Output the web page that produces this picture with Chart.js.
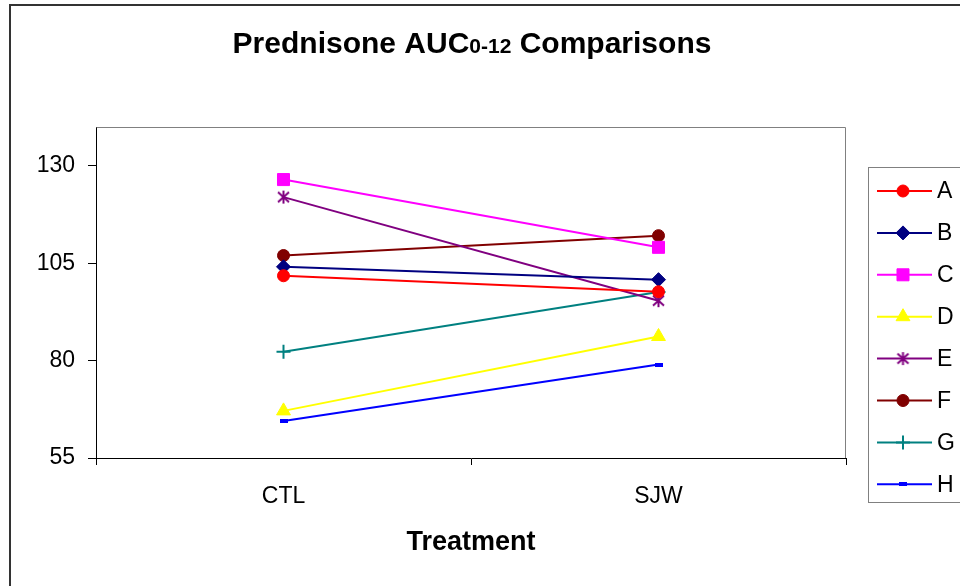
<!DOCTYPE html>
<html>
<head>
<meta charset="utf-8">
<script src="https://cdn.jsdelivr.net/npm/chart.js@4.4.1/dist/chart.umd.min.js"></script>
<style>
  html, body { margin: 0; padding: 0; background: #fff; }
  #wrap { width: 960px; height: 586px; position: relative; }
</style>
</head>
<body>
<div id="wrap"><canvas id="aucChart" width="960" height="586"></canvas></div>
<script>
// ======= données =======
const categories = ['CTL', 'SJW']
const yTicks = [55, 80, 105, 130]
const seriesNames = ['A', 'B', 'C', 'D', 'E', 'F', 'G', 'H']
const seriesA = [101.8, 97.7]
const seriesB = [104.1, 100.8]
const seriesC = [126.5, 109.1]
const seriesD = [67.1, 86.2]
const seriesE = [122.0, 95.4]
const seriesF = [107.0, 112.1]
const seriesG = [82.3, 97.6]
const seriesH = [64.5, 79.0]

const FONT = '"Liberation Sans", Arial, sans-serif'

// asterisque (6 branches) et petit tiret, dessinés sur des mini canvas
function asterisk (color) {
  const c = document.createElement('canvas')
  c.width = 15; c.height = 15
  const g = c.getContext('2d')
  g.strokeStyle = color; g.lineWidth = 2
  g.beginPath()
  g.moveTo(7.5, 1); g.lineTo(7.5, 14)
  g.moveTo(2, 2.5); g.lineTo(13, 12.5)
  g.moveTo(13, 2.5); g.lineTo(2, 12.5)
  g.stroke()
  return c
}
function dash (color) {
  const c = document.createElement('canvas')
  c.width = 8; c.height = 4
  const g = c.getContext('2d')
  g.fillStyle = color
  g.fillRect(0, 0, 8, 4)
  return c
}

function serie (label, data, color, style, radius) {
  return {
    label: label,
    data: data,
    borderColor: color,
    backgroundColor: color,
    pointBackgroundColor: color,
    pointBorderColor: color,
    pointStyle: style,
    pointRadius: radius,
    pointHoverRadius: radius,
    pointBorderWidth: style === 'cross' ? 2 : 1,
    borderWidth: 2,
    tension: 0,
    fill: false
  }
}

const datasets = [
  serie(seriesNames[0], seriesA, '#FF0000', 'circle', 6),
  serie(seriesNames[1], seriesB, '#000080', 'rectRot', 7),
  serie(seriesNames[2], seriesC, '#FF00FF', 'rect', 8.5),
  serie(seriesNames[3], seriesD, '#FFFF00', 'triangle', 8),
  serie(seriesNames[4], seriesE, '#800080', asterisk('#800080'), 7),
  serie(seriesNames[5], seriesF, '#800000', 'circle', 6),
  serie(seriesNames[6], seriesG, '#008080', 'cross', 7),
  serie(seriesNames[7], seriesH, '#0000FF', dash('#0000FF'), 4)
]

// ======= habillage : fond, cadres, titre, légende =======
const decor = {
  id: 'decor',
  beforeDraw (chart) {
    const ctx = chart.ctx
    ctx.save()
    ctx.fillStyle = '#fff'
    ctx.fillRect(0, 0, chart.width, chart.height)
    ctx.restore()
  },
  afterDraw (chart) {
    const ctx = chart.ctx
    const a = chart.chartArea
    ctx.save()

    // cadre extérieur (gauche + haut)
    ctx.strokeStyle = '#333'
    ctx.lineWidth = 2
    ctx.beginPath()
    ctx.moveTo(10, 586); ctx.lineTo(10, 5); ctx.lineTo(960, 5)
    ctx.stroke()

    // bord haut et droit de la zone de tracé
    ctx.strokeStyle = '#808080'
    ctx.lineWidth = 1
    ctx.beginPath()
    ctx.moveTo(Math.round(a.left) + 0.5, Math.round(a.top) + 0.5)
    ctx.lineTo(Math.round(a.right) - 0.5, Math.round(a.top) + 0.5)
    ctx.lineTo(Math.round(a.right) - 0.5, Math.round(a.bottom))
    ctx.stroke()

    // titre avec indice "0-12" plus petit
    const big = 'bold 30px ' + FONT
    const small = 'bold 21px ' + FONT
    const parts = [['Prednisone AUC', big], ['0-12', small], [' Comparisons', big]]
    let total = 0
    parts.forEach(p => { ctx.font = p[1]; total += ctx.measureText(p[0]).width })
    let x = 472 - total / 2
    ctx.fillStyle = '#000'
    ctx.textBaseline = 'alphabetic'
    ctx.textAlign = 'left'
    parts.forEach(p => {
      ctx.font = p[1]
      ctx.fillText(p[0], x, 53)
      x += ctx.measureText(p[0]).width
    })

    // légende encadrée
    ctx.strokeStyle = '#808080'
    ctx.lineWidth = 1
    ctx.strokeRect(868.5, 167.5, 100, 335)
    chart.data.datasets.forEach((ds, i) => {
      const y = 191 + i * 41.9
      ctx.strokeStyle = ds.borderColor
      ctx.lineWidth = 2
      ctx.beginPath()
      ctx.moveTo(877, y); ctx.lineTo(932, y)
      ctx.stroke()
      ctx.fillStyle = ds.pointBackgroundColor
      ctx.strokeStyle = ds.pointBorderColor
      ctx.lineWidth = ds.pointBorderWidth
      Chart.helpers.drawPoint(ctx, {
        pointStyle: ds.pointStyle,
        radius: ds.pointRadius,
        rotation: 0,
        borderWidth: ds.pointBorderWidth
      }, 903, y)
      ctx.fillStyle = '#000'
      ctx.font = '23px ' + FONT
      ctx.textBaseline = 'middle'
      ctx.fillText(ds.label, 937, y + 1)
    })
    ctx.restore()
  }
}

const aucChart = new Chart(document.getElementById('aucChart').getContext('2d'), {
  type: 'line',
  data: { labels: categories, datasets: datasets },
  options: {
    responsive: false,
    animation: false,
    layout: { padding: { top: 127, right: 114, left: 0, bottom: 0 } },
    plugins: {
      legend: { display: false },
      title: { display: false },
      tooltip: { enabled: false }
    },
    scales: {
      x: {
        offset: true,
        afterFit: s => { s.height = 128 },
        grid: { offset: true, drawOnChartArea: false, tickLength: 7, color: '#000' },
        border: { color: '#000', width: 1 },
        ticks: { color: '#000', font: { family: FONT, size: 23 }, padding: 18 },
        title: {
          display: true,
          text: 'Treatment',
          color: '#000',
          font: { family: FONT, size: 27, weight: 'bold' },
          padding: { top: 0, bottom: 27 }
        }
      },
      y: {
        min: 55,
        max: 140,
        afterFit: s => { s.width = 96 },
        afterBuildTicks: s => { s.ticks = yTicks.map(v => ({ value: v })) },
        grid: { drawOnChartArea: false, tickLength: 8, color: '#000' },
        border: { color: '#000', width: 1 },
        ticks: { color: '#000', font: { family: FONT, size: 23 }, padding: 13 }
      }
    }
  },
  plugins: [decor]
})
</script>
</body>
</html>
